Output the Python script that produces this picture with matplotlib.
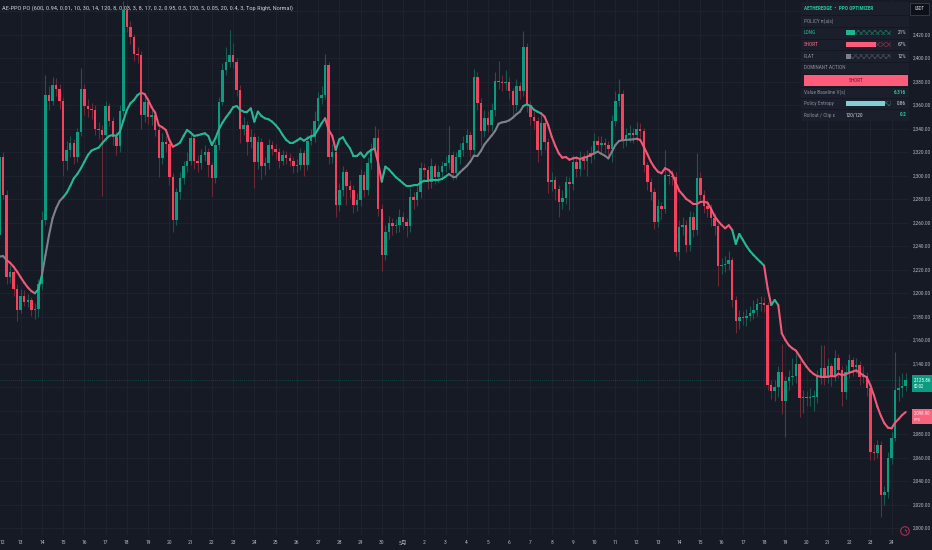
import matplotlib
matplotlib.use('Agg')
import matplotlib.pyplot as plt
from matplotlib import font_manager
from matplotlib.collections import LineCollection
from matplotlib.patches import Rectangle, Circle
import numpy as np

# ---------------- data (4h candles, index 0 = Apr 12 00:00) ----------------
opens = [
2250, 2316, 2284, 2214, 2218, 2204, 2186, 2198, 2193, 2194, 2186, 2187, 2208, 2262, 2369, 2364,
2377, 2374, 2364, 2313, 2322, 2328, 2316, 2337, 2374, 2359, 2357, 2356, 2340, 2339, 2335, 2359,
2347, 2333, 2325, 2355, 2441, 2427, 2418, 2404, 2403, 2352, 2363, 2350, 2352, 2339, 2315, 2329,
2327, 2299, 2262, 2286, 2298, 2308, 2313, 2332, 2313, 2311, 2318, 2320, 2309, 2298, 2326, 2363,
2390, 2397, 2403, 2397, 2373, 2340, 2343, 2329, 2333, 2312, 2329, 2308, 2311, 2326, 2323, 2320,
2313, 2318, 2315, 2313, 2308, 2309, 2319, 2309, 2330, 2333, 2347, 2366, 2369, 2394, 2316, 2320,
2275, 2288, 2303, 2291, 2288, 2275, 2279, 2301, 2288, 2311, 2323, 2332, 2272, 2233, 2252, 2260,
2257, 2258, 2265, 2261, 2257, 2282, 2279, 2286, 2307, 2305, 2295, 2308, 2299, 2303, 2308, 2311,
2318, 2302, 2316, 2322, 2328, 2335, 2322, 2384, 2362, 2338, 2349, 2343, 2356, 2381, 2380, 2379,
2380, 2372, 2360, 2376, 2372, 2410, 2360, 2350, 2347, 2322, 2345, 2329, 2295, 2296, 2289, 2278,
2281, 2295, 2293, 2312, 2306, 2315, 2313, 2316, 2319, 2330, 2326, 2328, 2326, 2323, 2347, 2364,
2370, 2330, 2335, 2336, 2335, 2340, 2338, 2309, 2295, 2286, 2261, 2274, 2272, 2301, 2300, 2299,
2235, 2256, 2258, 2241, 2265, 2254, 2298, 2284, 2274, 2272, 2264, 2257, 2223, 2224, 2225, 2228,
2194, 2176, 2180, 2179, 2181, 2183, 2186, 2191, 2192, 2190, 2122, 2117, 2120, 2133, 2108, 2125,
2129, 2130, 2140, 2111, 2112, 2111, 2112, 2112, 2129, 2136, 2129, 2138, 2129, 2145, 2135, 2116,
2133, 2143, 2137, 2139, 2129, 2130, 2119, 2065, 2064, 2071, 2028, 2031, 2060, 2077, 2118, 2119,
2121]
highs = [
2322, 2320, 2288, 2224, 2222, 2208, 2204, 2203, 2199, 2197, 2192, 2212, 2270, 2386, 2376, 2384,
2383, 2378, 2367, 2330, 2334, 2331, 2341, 2392, 2378, 2365, 2362, 2360, 2346, 2343, 2364, 2362,
2350, 2337, 2360, 2449, 2446, 2432, 2421, 2410, 2406, 2368, 2366, 2358, 2356, 2342, 2336, 2334,
2330, 2302, 2290, 2303, 2313, 2320, 2337, 2335, 2318, 2323, 2326, 2324, 2312, 2330, 2367, 2396,
2410, 2424, 2413, 2400, 2377, 2350, 2347, 2340, 2336, 2334, 2332, 2316, 2331, 2330, 2327, 2324,
2322, 2321, 2319, 2316, 2314, 2324, 2322, 2335, 2340, 2355, 2371, 2376, 2404, 2397, 2327, 2323,
2294, 2308, 2306, 2296, 2292, 2285, 2306, 2304, 2316, 2328, 2342, 2340, 2276, 2258, 2266, 2264,
2263, 2272, 2269, 2264, 2290, 2286, 2291, 2312, 2311, 2308, 2315, 2311, 2309, 2313, 2317, 2342,
2321, 2320, 2328, 2334, 2340, 2338, 2391, 2388, 2366, 2356, 2355, 2362, 2388, 2398, 2386, 2390,
2384, 2375, 2382, 2380, 2423, 2413, 2364, 2355, 2350, 2352, 2349, 2332, 2303, 2300, 2292, 2288,
2300, 2299, 2318, 2316, 2321, 2319, 2322, 2325, 2336, 2334, 2334, 2332, 2330, 2352, 2372, 2382,
2373, 2341, 2343, 2341, 2346, 2345, 2341, 2312, 2298, 2290, 2280, 2278, 2322, 2306, 2305, 2303,
2262, 2265, 2262, 2270, 2269, 2319, 2303, 2288, 2279, 2276, 2268, 2260, 2230, 2232, 2236, 2231,
2198, 2186, 2185, 2187, 2189, 2194, 2196, 2198, 2197, 2193, 2126, 2126, 2138, 2157, 2130, 2135,
2145, 2150, 2143, 2118, 2117, 2119, 2118, 2135, 2156, 2156, 2145, 2141, 2152, 2148, 2138, 2139,
2148, 2146, 2145, 2142, 2138, 2133, 2122, 2072, 2075, 2074, 2036, 2065, 2082, 2150, 2130, 2132,
2132]
lows = [
2245, 2280, 2208, 2209, 2198, 2176, 2183, 2189, 2188, 2181, 2178, 2180, 2204, 2258, 2356, 2360,
2368, 2357, 2300, 2305, 2316, 2310, 2312, 2334, 2352, 2350, 2348, 2335, 2331, 2283, 2330, 2342,
2326, 2318, 2320, 2352, 2422, 2412, 2398, 2396, 2340, 2346, 2344, 2343, 2334, 2299, 2310, 2320,
2292, 2252, 2258, 2280, 2293, 2303, 2309, 2306, 2303, 2306, 2313, 2299, 2283, 2294, 2322, 2360,
2386, 2393, 2392, 2368, 2328, 2335, 2318, 2324, 2290, 2306, 2297, 2301, 2306, 2318, 2314, 2307,
2309, 2310, 2308, 2302, 2303, 2305, 2300, 2305, 2326, 2329, 2342, 2361, 2365, 2310, 2311, 2265,
2270, 2283, 2275, 2281, 2268, 2270, 2274, 2282, 2284, 2306, 2318, 2266, 2219, 2228, 2246, 2250,
2251, 2252, 2255, 2248, 2252, 2272, 2274, 2281, 2299, 2289, 2290, 2293, 2294, 2298, 2303, 2306,
2296, 2297, 2310, 2317, 2323, 2316, 2318, 2356, 2325, 2333, 2337, 2338, 2351, 2374, 2372, 2373,
2365, 2352, 2355, 2365, 2368, 2354, 2343, 2340, 2312, 2318, 2322, 2285, 2287, 2279, 2265, 2272,
2276, 2271, 2288, 2299, 2300, 2306, 2300, 2311, 2314, 2320, 2320, 2319, 2316, 2312, 2342, 2359,
2324, 2325, 2329, 2328, 2330, 2331, 2303, 2288, 2279, 2255, 2256, 2263, 2268, 2293, 2292, 2232,
2228, 2250, 2235, 2236, 2248, 2250, 2278, 2268, 2265, 2257, 2250, 2206, 2216, 2218, 2220, 2188,
2166, 2170, 2173, 2172, 2176, 2178, 2181, 2185, 2184, 2118, 2110, 2108, 2112, 2097, 2078, 2118,
2122, 2124, 2095, 2098, 2104, 2104, 2100, 2107, 2123, 2122, 2124, 2121, 2125, 2128, 2104, 2110,
2128, 2130, 2132, 2122, 2124, 2113, 2058, 2058, 2060, 2010, 2020, 2026, 2055, 2074, 2108, 2112,
2117]
closes = [
2316, 2284, 2214, 2218, 2204, 2186, 2198, 2193, 2194, 2186, 2187, 2208, 2262, 2369, 2364, 2377,
2374, 2364, 2313, 2322, 2328, 2316, 2337, 2374, 2359, 2357, 2356, 2340, 2339, 2335, 2359, 2347,
2333, 2325, 2355, 2441, 2427, 2418, 2404, 2403, 2352, 2363, 2350, 2352, 2339, 2315, 2329, 2327,
2299, 2262, 2286, 2298, 2308, 2313, 2332, 2313, 2311, 2318, 2320, 2309, 2298, 2326, 2363, 2390,
2397, 2403, 2397, 2373, 2340, 2343, 2329, 2333, 2312, 2329, 2308, 2311, 2326, 2323, 2320, 2313,
2318, 2315, 2313, 2308, 2309, 2319, 2309, 2330, 2333, 2347, 2366, 2369, 2394, 2316, 2320, 2275,
2288, 2303, 2291, 2288, 2275, 2279, 2301, 2288, 2311, 2323, 2332, 2272, 2233, 2252, 2260, 2257,
2258, 2265, 2261, 2257, 2282, 2279, 2286, 2307, 2305, 2295, 2308, 2299, 2303, 2308, 2311, 2318,
2302, 2316, 2322, 2328, 2335, 2322, 2384, 2362, 2338, 2349, 2343, 2356, 2381, 2380, 2379, 2380,
2372, 2360, 2376, 2372, 2410, 2360, 2350, 2347, 2322, 2345, 2329, 2295, 2296, 2289, 2278, 2281,
2295, 2293, 2312, 2306, 2315, 2313, 2316, 2319, 2330, 2326, 2328, 2326, 2323, 2347, 2364, 2370,
2330, 2335, 2336, 2335, 2340, 2338, 2309, 2295, 2286, 2261, 2274, 2272, 2301, 2300, 2299, 2235,
2256, 2258, 2241, 2265, 2254, 2298, 2284, 2274, 2272, 2264, 2257, 2223, 2224, 2225, 2228, 2194,
2176, 2180, 2179, 2181, 2183, 2186, 2191, 2192, 2190, 2122, 2117, 2120, 2133, 2108, 2125, 2129,
2130, 2140, 2111, 2112, 2111, 2112, 2112, 2129, 2136, 2129, 2138, 2129, 2145, 2135, 2116, 2133,
2143, 2137, 2139, 2129, 2130, 2119, 2065, 2064, 2071, 2028, 2031, 2060, 2077, 2118, 2119, 2121,
2125.86]

# indicator line (policy baseline)
policy_line = [
2231.2, 2231.7, 2228.3, 2226.0, 2222.6, 2218.4, 2213.6, 2209.0, 2205.0, 2201.9, 2200.0, 2203.4, 2215.6, 2232.6, 2249.6, 2263.8,
2272.3, 2278.5, 2281.7, 2285.6, 2291.3, 2297.8, 2301.5, 2306.3, 2312.0, 2317.7, 2321.4, 2322.8, 2323.9, 2327.6, 2331.0, 2333.9,
2334.7, 2333.9, 2337.5, 2346.9, 2356.0, 2361.7, 2364.5, 2368.7, 2370.7, 2369.6, 2364.5, 2358.3, 2353.5, 2343.0, 2341.3, 2339.0,
2330.5, 2324.8, 2326.2, 2328.2, 2333.9, 2339.0, 2336.7, 2333.9, 2334.5, 2335.3, 2336.2, 2333.9, 2326.2, 2331.9, 2339.6, 2345.2,
2349.8, 2353.7, 2358.3, 2359.4, 2356.0, 2354.6, 2354.6, 2357.4, 2346.1, 2354.6, 2350.9, 2348.9, 2348.1, 2346.1, 2343.2, 2339.6,
2334.7, 2330.5, 2328.2, 2328.2, 2329.9, 2331.9, 2329.9, 2331.9, 2333.6, 2334.6, 2339.6, 2344.7, 2348.9, 2339.0, 2334.0, 2322.0,
2331.0, 2332.8, 2327.6, 2323.4, 2316.9, 2316.9, 2319.7, 2315.7, 2319.7, 2322.0, 2323.1, 2310.6, 2295.0, 2307.8, 2305.5, 2302.1,
2298.7, 2296.4, 2293.6, 2291.3, 2291.3, 2291.9, 2291.9, 2294.2, 2295.9, 2295.9, 2296.4, 2296.4, 2296.4, 2297.3, 2299.3, 2301.5,
2299.3, 2299.3, 2302.7, 2305.5, 2308.3, 2312.0, 2317.1, 2316.8, 2321.1, 2326.7, 2330.4, 2334.1, 2338.1, 2344.3, 2345.5, 2346.0,
2347.2, 2349.4, 2352.3, 2354.5, 2359.4, 2360.8, 2359.4, 2356.2, 2354.5, 2353.1, 2350.3, 2343.2, 2333.3, 2325.6, 2319.1, 2315.4,
2316.0, 2313.7, 2314.8, 2315.4, 2314.3, 2315.4, 2316.2, 2317.7, 2319.1, 2320.5, 2318.8, 2317.1, 2314.8, 2320.5, 2326.2, 2329.6,
2330.3, 2330.5, 2330.8, 2331.0, 2331.6, 2330.5, 2324.8, 2318.6, 2312.0, 2307.2, 2303.5, 2302.1, 2306.4, 2305.0, 2302.1, 2294.4,
2287.4, 2284.0, 2280.3, 2278.3, 2276.0, 2276.0, 2277.7, 2278.0, 2277.1, 2272.0, 2265.8, 2261.5, 2258.1, 2255.3, 2257.9, 2253.9,
2242.0, 2250.5, 2245.4, 2240.3, 2236.0, 2232.6, 2229.5, 2226.6, 2223.5, 2204.2, 2190.0, 2194.3, 2190.0, 2165.9, 2160.2, 2155.7,
2153.1, 2151.2, 2146.6, 2141.8, 2137.5, 2133.9, 2131.3, 2129.6, 2129.0, 2128.7, 2129.0, 2129.6, 2129.3, 2131.6, 2130.4, 2131.0,
2132.4, 2133.3, 2134.4, 2132.4, 2130.2, 2128.5, 2121.9, 2113.4, 2103.5, 2095.6, 2089.3, 2085.6, 2085.1, 2089.9, 2093.0, 2096.4,
2098.9]

# regime of the line: (first candle index, state)
regime_starts = [0, 3, 11, 13, 19, 41, 51, 93, 96, 107, 109, 128, 149, 154, 169, 181, 208, 217, 219, 221]
regime_states = ['flat', 'short', 'long', 'flat', 'long', 'short', 'long', 'short', 'long', 'short',
                 'long', 'flat', 'long', 'short', 'flat', 'short', 'long', 'short', 'long', 'short']

day_labels = ['12', '13', '14', '15', '16', '17', '18', '19', '20', '21', '22', '23', '24', '25', '26',
              '27', '28', '29', '30', '5月', '2', '3', '4', '5', '6', '7', '8', '9', '10', '11', '12',
              '13', '14', '15', '16', '17', '18', '19', '20', '21', '22', '23', '24']
grid_prices = list(range(2000, 2441, 20))
label_prices = [2000, 2020, 2040, 2060, 2080, 2140, 2160, 2180, 2200, 2220, 2240, 2260, 2280,
                2300, 2320, 2340, 2360, 2380, 2400, 2420]

title_text = ('AE-PPO PO (600, 0.94, 0.01, 10, 30, 14, 120, 8, 0.03, 3, 8, 17, 0.2, 0.95, 0.5, '
              '120, 5, 0.05, 20, 0.4, 3, Top Right, Normal)')
policy_names = ['LONG', 'SHORT', 'FLAT']
policy_probs = [0.21, 0.67, 0.12]
dominant_action = 'SHORT'
value_baseline = 6.316
policy_entropy = 0.86
rollout_text = '120/120'
clip_eps = 0.2
countdown_text = '00:02'

# ---------------- style ----------------
BG = '#161a25'
GRID = '#1f2330'
TXT = '#b2b5be'
UP = '#0b9b80'
DN = '#f5415e'
LINE_COL = {'long': '#26b895', 'short': '#ee5a78', 'flat': '#7e818b'}

def pick(fams):
    avail = {f.name for f in font_manager.fontManager.ttflist}
    return [f for f in fams if f in avail] + ['DejaVu Sans']

NARROW = pick(['Liberation Sans Narrow', 'Roboto Condensed', 'Roboto'])
CJK = NARROW + ['Noto Sans CJK SC']
plt.rcParams['hatch.linewidth'] = 0.6

W, H = 932, 550
PLOT_R, PLOT_B = 909, 535
fig = plt.figure(figsize=(W / 100, H / 100), dpi=100)
fig.patch.set_facecolor(BG)
ax = fig.add_axes([0, 1 - PLOT_B / H, PLOT_R / W, PLOT_B / H])
ax.set_facecolor(BG)
for s in ax.spines.values():
    s.set_visible(False)
ax.set_xticks([])
ax.set_yticks([])
ax.set_xlim(0.1525, 256.93)
ax.set_ylim(1994.3, 2449.6)

n = len(closes)
xi = np.arange(n)
o = np.array(opens, float)
c = np.array(closes, float)
hi = np.array(highs, float)
lo = np.array(lows, float)

# grid
for p in grid_prices:
    ax.axhline(p, color=GRID, lw=0.7, zorder=0)
for d in range(len(day_labels)):
    ax.axvline(6 * d, color=GRID, lw=0.7, zorder=0)

# candles
up = c >= o
body_col = np.where(up, UP, DN)
wick_col = np.where(up, '#17594d', '#6e2838')
ax.vlines(xi, lo, hi, colors=wick_col, linewidth=0.8, zorder=2)
body_bot = np.minimum(o, c)
body_h = np.maximum(np.abs(c - o), 0.9)
ax.bar(xi, body_h, bottom=body_bot, width=0.7, color=body_col, linewidth=0, zorder=3)

# last price dotted line
ax.axhline(closes[-1], color=UP, lw=0.5, ls=(0, (1, 2)), alpha=0.6, zorder=1)

# indicator line, coloured by regime
state = []
for i in range(n):
    k = max(j for j, s in enumerate(regime_starts) if s <= i)
    state.append(regime_states[k])
lv = np.array(policy_line, float)
segs = [[(i - 1, lv[i - 1]), (i, lv[i])] for i in range(1, n)]
cols = [LINE_COL[state[i]] for i in range(1, n)]
lc = LineCollection(segs, colors=cols, linewidths=1.5, capstyle='round', joinstyle='round', zorder=4)
ax.add_collection(lc)

# ---------------- overlay in pixel coordinates ----------------
ov = fig.add_axes([0, 0, 1, 1], facecolor='none')
ov.set_xlim(0, W)
ov.set_ylim(H, 0)
ov.axis('off')

def ypx(p):
    return H - ax.transData.transform((0, p))[1]

def xpx(i):
    return ax.transData.transform((i, 0))[0]

# title
ov.text(2, 8, title_text, fontsize=4.6, color='#c9ccd4', va='center', ha='left', family=NARROW)

# price scale labels
for p in label_prices:
    ov.text(913, ypx(p), f'{p:,.2f}', fontsize=3.9, color=TXT, va='center', ha='left', family=NARROW)

# time labels
for d, lab in enumerate(day_labels):
    xx = xpx(6 * d)
    if xx < 4:
        ov.text(0, 543, lab, fontsize=4.1, color=TXT, va='center', ha='left', family=CJK)
    else:
        ov.text(xx, 543, lab, fontsize=4.1, color=TXT, va='center', ha='center', family=CJK)

# USDT box
ov.add_patch(Rectangle((910, 3), 19, 12, fc='#0d1018', ec='#3a3e4a', lw=0.6, zorder=5))
ov.text(919.5, 9, 'USDT', fontsize=3.3, color='#d1d4dc', ha='center', va='center', family=NARROW, zorder=6)

# last price box
yl = ypx(closes[-1])
ov.add_patch(Rectangle((912, yl - 5), 20, 17, fc=UP, ec='none', zorder=5))
ov.text(914, yl - 0.5, f'{closes[-1]:,.2f}', fontsize=3.7, color='white', ha='left', va='center', family=NARROW, zorder=6)
ov.text(914, yl + 6.5, countdown_text, fontsize=3.4, color='white', ha='left', va='center', family=NARROW, zorder=6)

# indicator value box
yv = ypx(policy_line[-1])
ov.add_patch(Rectangle((912, yv - 3.5), 20, 15.5, fc='#f7647e', ec='none', zorder=5))
ov.text(914, yv + 0.8, f'{policy_line[-1]:,.2f}', fontsize=3.5, color='#ffe6ea', ha='left', va='center', family=NARROW, zorder=6)
ov.text(914, yv + 7.6, 'PPO', fontsize=3.1, color='#ffe6ea', ha='left', va='center', family=NARROW, zorder=6)

# lightning circle
ov.add_patch(Circle((905, 531), 4.3, fc=BG, ec='#b2355c', lw=0.7, zorder=5))
ov.text(905, 531.3, 'ϟ', fontsize=4.2, color='#d0456e', ha='center', va='center', zorder=6)

# ---------------- policy table ----------------
TX0, TX1 = 801, 909
bounds = [2, 15, 27, 38.5, 50, 62, 73.5, 86.5, 97.5, 109, 121]
ov.add_patch(Rectangle((TX0, bounds[0]), TX1 - TX0, bounds[-1] - bounds[0], fc='#1b1f2c', ec='none', zorder=5))
for b in bounds[1:-1]:
    ov.plot([TX0, TX1], [b, b], color='#131620', lw=0.6, zorder=6)
centers = [(bounds[k] + bounds[k + 1]) / 2 for k in range(len(bounds) - 1)]
FS = 3.8
TEAL = '#25c29b'
PINK = '#ff6a86'
GRAYT = '#8b8e98'

ov.text(804, centers[0], 'AETHEREDGE  •  PPO OPTIMIZER', fontsize=FS, color=TEAL, fontweight='bold',
        ha='left', va='center', family=NARROW, zorder=7)
ov.text(804, centers[1], 'POLICY π(a|s)', fontsize=FS, color=GRAYT, ha='left', va='center', family=NARROW, zorder=7)

BX, BW, BH = 846, 45, 5
name_cols = [TEAL, PINK, GRAYT]
fill_cols = ['#22b48e', '#ff5c7c', '#7d808a']
dim_cols = ['#1c6a5a', '#7a2c40', '#464a55']
for k, (nm, pr) in enumerate(zip(policy_names, policy_probs)):
    cy = centers[2 + k]
    ov.text(804, cy, nm, fontsize=FS, color=name_cols[k], ha='left', va='center', family=NARROW, zorder=7)
    ov.add_patch(Rectangle((BX, cy - BH / 2), BW * pr, BH, fc=fill_cols[k], ec='none', zorder=7))
    ov.add_patch(Rectangle((BX + BW * pr, cy - BH / 2), BW * (1 - pr), BH, fc='none', ec=dim_cols[k],
                           hatch='xxxxxx', lw=0, zorder=7))
    ov.text(906, cy, f'{round(pr * 100)}%', fontsize=FS, color='#d1d4dc', ha='right', va='center',
            family=NARROW, zorder=7)

ov.text(804, centers[5], 'DOMINANT ACTION', fontsize=FS, color=GRAYT, ha='left', va='center', family=NARROW, zorder=7)
ov.add_patch(Rectangle((804, bounds[6] + 1), 104, bounds[7] - bounds[6] - 2, fc='#ff5c7c', ec='none', zorder=7))
ov.text(856, centers[6], dominant_action, fontsize=FS, color='#6e1428', ha='center', va='center',
        family=NARROW, zorder=8)

ov.text(804, centers[7], 'Value Baseline V(s)', fontsize=FS, color=GRAYT, ha='left', va='center', family=NARROW, zorder=7)
ov.text(906, centers[7], f'{value_baseline:.3f}', fontsize=FS, color=TEAL, fontweight='bold', ha='right',
        va='center', family=NARROW, zorder=7)

cy = centers[8]
ov.text(804, cy, 'Policy Entropy', fontsize=FS, color=GRAYT, ha='left', va='center', family=NARROW, zorder=7)
ov.add_patch(Rectangle((BX, cy - BH / 2), BW * policy_entropy, BH, fc='#7fcfd3', ec='none', zorder=7))
ov.add_patch(Rectangle((BX + BW * policy_entropy, cy - BH / 2), BW * (1 - policy_entropy), BH, fc='none',
                       ec='#2f6266', hatch='xxxxxx', lw=0, zorder=7))
ov.text(906, cy, f'{policy_entropy:.2f}', fontsize=FS, color='#d1d4dc', ha='right', va='center', family=NARROW, zorder=7)

cy = centers[9]
ov.text(804, cy, 'Rollout / Clip ε', fontsize=FS, color=GRAYT, ha='left', va='center', family=NARROW, zorder=7)
ov.text(846, cy, rollout_text, fontsize=FS, color='#d1d4dc', ha='left', va='center', family=NARROW, zorder=7)
ov.text(906, cy, f'{clip_eps}', fontsize=FS, color=TEAL, fontweight='bold', ha='right', va='center',
        family=NARROW, zorder=7)

fig.savefig('out.png', dpi=100, facecolor=BG)
